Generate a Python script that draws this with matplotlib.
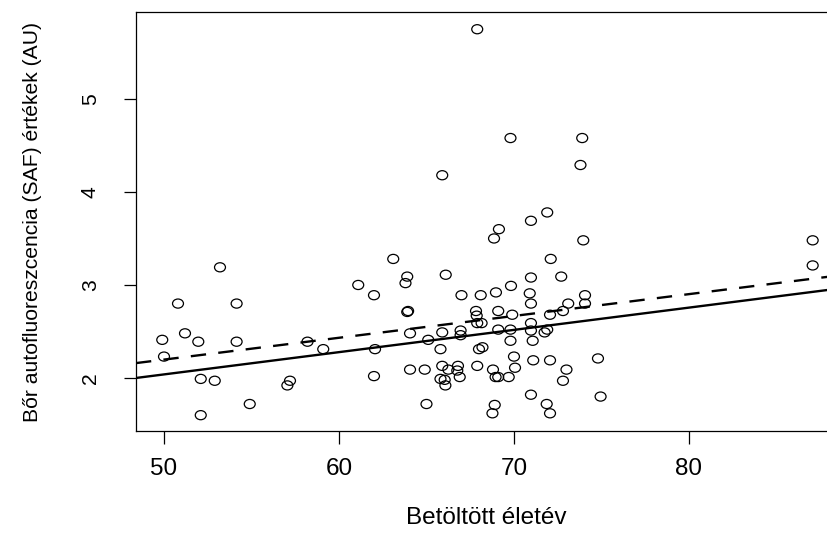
import numpy as np
import matplotlib
matplotlib.use('Agg')
import matplotlib.pyplot as plt
from matplotlib import font_manager
from matplotlib.path import Path
from matplotlib.transforms import Affine2D

plt.rcParams['font.family'] = ['Liberation Sans', 'DejaVu Sans']

# eletev (x) es SAF ertek (y), leolvasva
age = [53.2, 50.8, 54.15, 49.9, 51.2, 51.96, 54.15, 50.0, 52.1, 52.9,
       52.1, 54.9, 57.2, 57.05, 58.2, 59.1, 63.1, 61.1, 62.0, 62.06,
       62.0, 63.9, 63.8, 63.9, 63.95, 64.06, 64.06, 64.9, 65.0, 66.1,
       65.1, 65.9, 65.8, 67.0, 66.95, 66.95, 65.9, 66.8, 66.25, 66.76,
       65.8, 66.04, 66.08, 66.9, 65.9, 67.9, 69.8, 73.9, 73.8, 71.9,
       70.97, 69.14, 68.86, 73.96, 72.1, 87.07, 87.07, 70.97, 72.7, 68.1,
       68.97, 69.83, 70.9, 70.97, 74.06, 74.06, 73.1, 72.8, 67.83, 69.1,
       67.87, 67.9, 68.15, 69.9, 72.06, 70.97, 69.1, 69.8, 70.97, 71.75,
       71.9, 69.8, 71.07, 68.0, 68.2, 70.0, 71.1, 72.06, 74.8, 67.9,
       68.8, 70.06, 73.0, 68.95, 69.1, 69.7, 72.8, 70.97, 74.95, 68.9,
       68.77, 71.87, 72.06]
saf = [3.19, 2.80, 2.80, 2.41, 2.48, 2.39, 2.39, 2.23, 1.99, 1.97,
       1.60, 1.72, 1.97, 1.92, 2.39, 2.31, 3.28, 3.00, 2.89, 2.31,
       2.02, 3.09, 3.02, 2.71, 2.72, 2.48, 2.09, 2.09, 1.72, 3.11,
       2.41, 2.49, 2.31, 2.89, 2.51, 2.46, 2.13, 2.13, 2.09, 2.08,
       1.99, 1.98, 1.92, 2.01, 4.18, 5.75, 4.58, 4.58, 4.29, 3.78,
       3.69, 3.60, 3.50, 3.48, 3.28, 3.48, 3.21, 3.08, 3.09, 2.89,
       2.92, 2.99, 2.91, 2.80, 2.89, 2.80, 2.80, 2.72, 2.72, 2.72,
       2.67, 2.59, 2.59, 2.68, 2.68, 2.59, 2.52, 2.52, 2.51, 2.49,
       2.52, 2.40, 2.40, 2.31, 2.33, 2.23, 2.19, 2.19, 2.21, 2.13,
       2.09, 2.11, 2.09, 2.01, 2.01, 2.01, 1.97, 1.82, 1.80, 1.71,
       1.62, 1.72, 1.62]

# illesztett egyenesek vegpontjai (leolvasva)
fit_x = [48.4, 88.46]
fit_solid = [2.0, 2.959]
fit_dashed = [2.16, 3.10]

xticks = [50, 60, 70, 80]
yticks = [2, 3, 4, 5]

# the original image is stretched sideways -> narrow font for rotated text if available
try:
    font_manager.findfont('Liberation Sans Narrow', fallback_to_default=False)
    vfont, vsize = 'Liberation Sans Narrow', 18.3
except Exception:
    vfont, vsize = 'Liberation Sans', 15.2

# slightly wide open circle
oval = Path.unit_circle().transformed(Affine2D().scale(1.2, 1.0))

fig = plt.figure(figsize=(8.27, 5.34), dpi=100)
ax = fig.add_axes([136/827, 103.3/534, 701/827, 418.4/534])

ax.scatter(age, saf, s=62, marker=oval, facecolors='none', edgecolors='black', linewidths=0.9, zorder=3)
ax.plot(fit_x, fit_solid, color='black', lw=1.7, zorder=2)
ax.plot(fit_x, fit_dashed, color='black', lw=1.7, ls=(0, (6.5, 5.2)), zorder=2)

ax.set_xlim(48.4, 88.46)
ax.set_ylim(1.433, 5.932)
ax.set_xticks(xticks)
ax.set_yticks(yticks)
ax.tick_params(axis='x', direction='out', length=9, width=0.9, labelsize=17.5, pad=11)
ax.tick_params(axis='y', direction='out', length=9, width=0.9, pad=17)
ax.set_yticklabels([str(t) for t in yticks], rotation=90, va='center', family=[vfont, 'DejaVu Sans'], fontsize=vsize)
for sp in ax.spines.values():
    sp.set_linewidth(0.9)

ax.set_xlabel('Betöltött életév', fontsize=17.5, labelpad=19)
ax.set_ylabel('Bőr autofluoreszcencia (SAF) értékek (AU)', family=[vfont, 'DejaVu Sans'], fontsize=vsize, labelpad=28)

fig.savefig('out.png', dpi=100)
